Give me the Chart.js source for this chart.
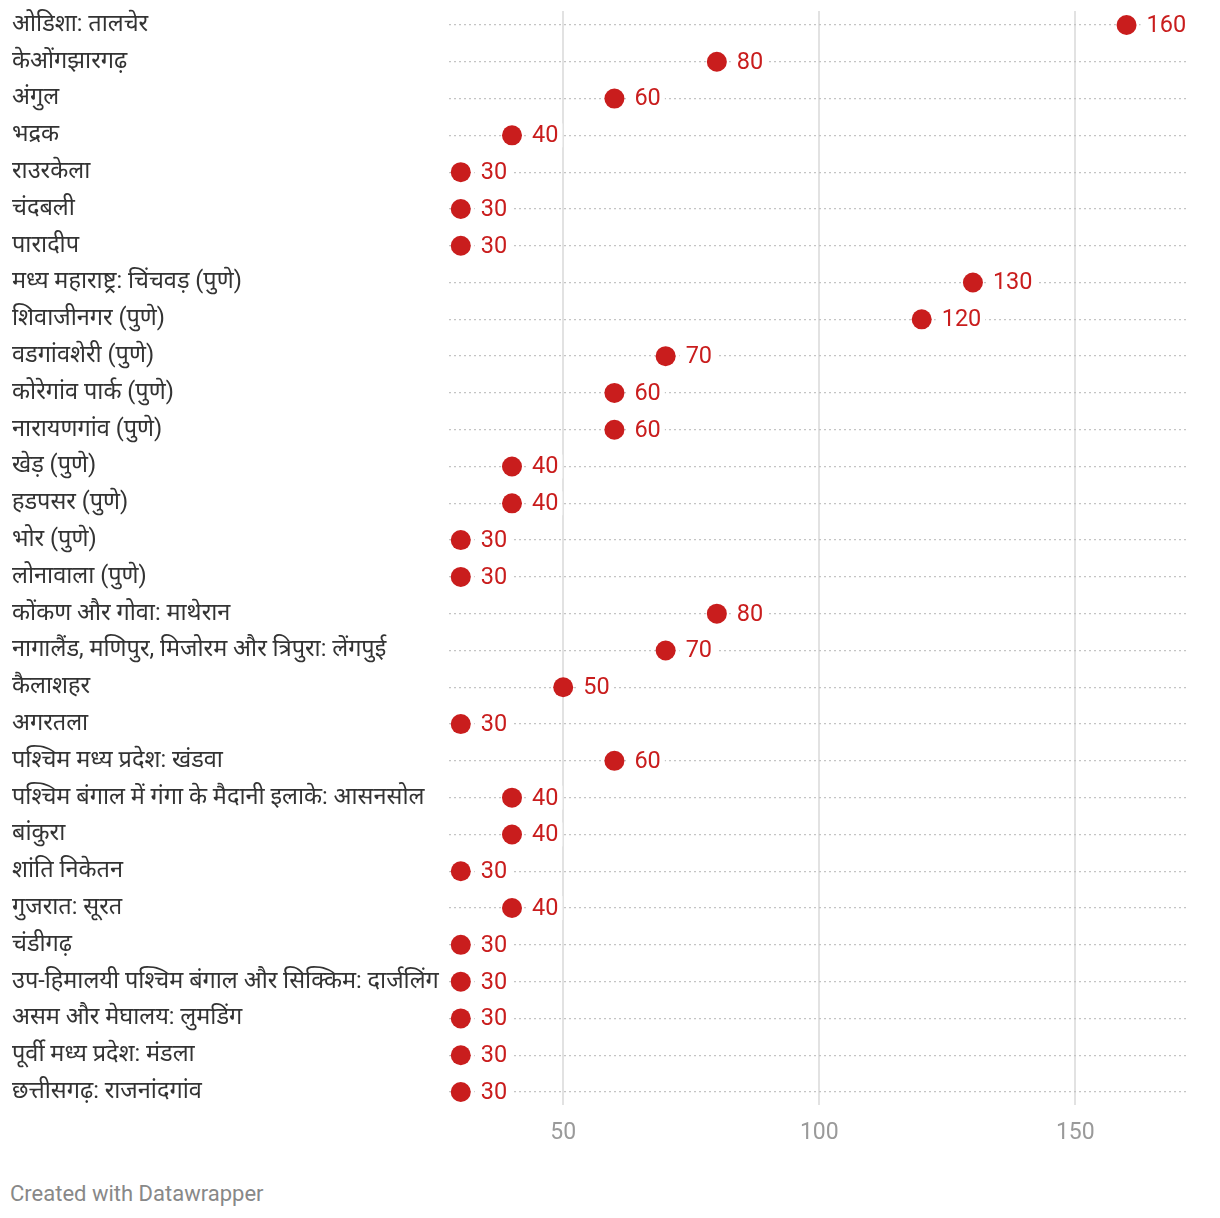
<!DOCTYPE html>
<html>
<head>
<meta charset="utf-8">
<script src="https://cdn.jsdelivr.net/npm/chart.js@4.4.1/dist/chart.umd.min.js"></script>
<style>
  body { margin: 0; background: #fff; font-family: Roboto, "Noto Sans", sans-serif; }
  #wrap { width: 1220px; height: 1160px; position: relative; }
  .credit { position: absolute; left: 10px; top: 1181px; font-size: 22px; color: #888; }
</style>
</head>
<body>
<div id="wrap"><canvas id="dotChart"></canvas></div>
<div class="credit">Created with Datawrapper</div>
<script>
// stations, top to bottom
const stations = [
  'ओडिशा: तालचेर', 'केओंगझारगढ़', 'अंगुल', 'भद्रक', 'राउरकेला', 'चंदबली', 'पारादीप',
  'मध्य महाराष्ट्र: चिंचवड़ (पुणे)', 'शिवाजीनगर (पुणे)', 'वडगांवशेरी (पुणे)', 'कोरेगांव पार्क (पुणे)',
  'नारायणगांव (पुणे)', 'खेड़ (पुणे)', 'हडपसर (पुणे)', 'भोर (पुणे)', 'लोनावाला (पुणे)',
  'कोंकण और गोवा: माथेरान', 'नागालैंड, मणिपुर, मिजोरम और त्रिपुरा: लेंगपुई', 'कैलाशहर', 'अगरतला',
  'पश्चिम मध्य प्रदेश: खंडवा', 'पश्चिम बंगाल में गंगा के मैदानी इलाके: आसनसोल', 'बांकुरा', 'शांति निकेतन',
  'गुजरात: सूरत', 'चंडीगढ़', 'उप-हिमालयी पश्चिम बंगाल और सिक्किम: दार्जलिंग', 'असम और मेघालय: लुमडिंग',
  'पूर्वी मध्य प्रदेश: मंडला', 'छत्तीसगढ़: राजनांदगांव'
];
const values = [
  160, 80, 60, 40, 30, 30, 30,
  130, 120, 70, 60, 60, 40, 40, 30, 30,
  80, 70, 50, 30,
  60, 40, 40, 30,
  40, 30, 30, 30, 30, 30
];
const xTicks = [50, 100, 150];

const red = '#c91d1d';

// value labels next to each dot
const valueLabels = {
  id: 'valueLabels',
  afterDatasetsDraw(chart) {
    const ctx = chart.ctx;
    const meta = chart.getDatasetMeta(0);
    ctx.save();
    ctx.font = '23.5px Roboto, "Noto Sans", sans-serif';
    ctx.textBaseline = 'middle';
    ctx.textAlign = 'left';
    meta.data.forEach((pt, i) => {
      const txt = String(values[i]);
      const w = ctx.measureText(txt).width;
      ctx.fillStyle = '#fff';
      ctx.fillRect(pt.x + 14, pt.y - 12, w + 10, 24);
      ctx.fillStyle = red;
      ctx.fillText(txt, pt.x + 20, pt.y + 1);
    });
    ctx.restore();
  }
};

const ctx = document.getElementById('dotChart').getContext('2d');
const dotChart = new Chart(ctx, {
  type: 'scatter',
  data: {
    datasets: [{
      data: values.map((v, i) => ({ x: v, y: i })),
      pointRadius: 10,
      pointHoverRadius: 10,
      pointBackgroundColor: red,
      pointBorderWidth: 0,
      borderColor: red
    }]
  },
  plugins: [valueLabels],
  options: {
    responsive: true,
    maintainAspectRatio: false,
    animation: false,
    layout: { padding: { left: 12, right: 32, top: 11, bottom: 0 } },
    plugins: {
      legend: { display: false },
      tooltip: { enabled: false }
    },
    scales: {
      x: {
        type: 'linear',
        min: 27.7,
        max: 172,
        afterBuildTicks: (scale) => { scale.ticks = xTicks.map(v => ({ value: v })); },
        afterFit: (scale) => { scale.height = 55; scale.paddingLeft = 0; scale.paddingRight = 0; },
        border: { display: false },
        grid: { color: '#e2e2e2', lineWidth: 2, drawTicks: false },
        ticks: {
          padding: 14,
          color: '#9a9a9a',
          font: { family: 'Roboto', size: 23 }
        }
      },
      y: {
        type: 'linear',
        reverse: true,
        min: -0.38,
        max: stations.length - 1 + 0.353,
        afterBuildTicks: (scale) => { scale.ticks = stations.map((s, i) => ({ value: i })); },
        afterFit: (scale) => {
          scale.width = 437;
          scale.paddingTop = 0;
          scale.paddingBottom = 0;
        },
        border: { display: false, dash: [2, 3] },
        grid: {
          color: '#c4c4c4',
          lineWidth: 1.3,
          drawTicks: false
        },
        ticks: {
          crossAlign: 'far',
          padding: 0,
          autoSkip: false,
          color: '#333',
          font: { family: 'Roboto, "Noto Sans"', size: 23.5 },
          callback: (value) => stations[value]
        }
      }
    }
  }
});
</script>
</body>
</html>
